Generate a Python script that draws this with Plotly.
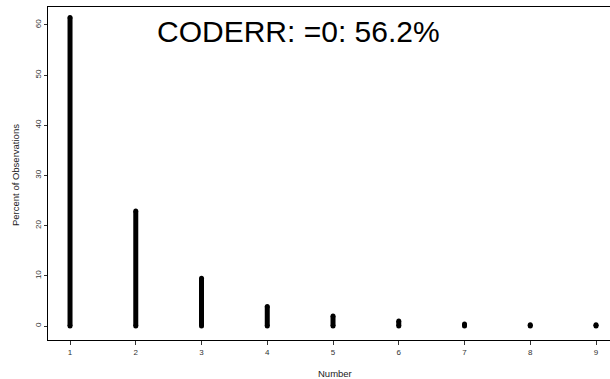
import plotly.graph_objects as go

numbers = [1, 2, 3, 4, 5, 6, 7, 8, 9]
percents = [61.5, 22.9, 9.5, 3.9, 2.0, 1.0, 0.4, 0.25, 0.25]
y_ticks = [0, 10, 20, 30, 40, 50, 60]
title_text = "CODERR: =0: 56.2%"
x_title = "Number"
y_title = "Percent of Observations"

xs, ys = [], []
for n, p in zip(numbers, percents):
    xs += [n, n, None]
    ys += [0, p, None]

fig = go.Figure()
fig.add_trace(go.Scatter(
    x=xs, y=ys, mode="lines+markers",
    line=dict(color="black", width=5),
    marker=dict(color="black", size=5, line=dict(width=0)),
    connectgaps=False, hoverinfo="skip", showlegend=False, cliponaxis=False,
))

W, H = 610, 379
ml, mr, mt, mb = 48, 0, 7, 39
pw, ph = W - ml - mr, H - mt - mb


def px_x(px):
    return (px - ml) / pw


def px_y(py):
    return (H - mb - py) / ph


fig.update_layout(
    width=W, height=H,
    margin=dict(l=ml, r=mr, t=mt, b=mb, pad=0, autoexpand=False),
    paper_bgcolor="white", plot_bgcolor="white",
    font=dict(family="Liberation Sans, Arial, sans-serif", color="#333"),
    xaxis=dict(
        range=[0.665, 9.213], tickvals=numbers, ticktext=[str(n) for n in numbers],
        showgrid=False, zeroline=False, showline=True, linecolor="black", linewidth=1,
        mirror=True, ticks="outside", ticklen=4, tickcolor="#333", tickwidth=1,
        tickfont=dict(size=8, color="#333"), automargin=False,
    ),
    yaxis=dict(
        range=[-2.79, 63.58], tickvals=y_ticks, ticktext=[str(v) for v in y_ticks],
        showgrid=False, zeroline=False, showline=True, linecolor="black", linewidth=1,
        ticks="outside", ticklen=3, tickcolor="#333", tickwidth=1, tickangle=-90,
        tickfont=dict(size=8, color="#333"), automargin=False,
    ),
    annotations=[
        dict(
            text=title_text, xref="paper", yref="paper",
            x=px_x(298.5), y=px_y(31),
            xanchor="center", yanchor="middle", showarrow=False,
            font=dict(size=30, color="black", family="Liberation Sans, Arial, sans-serif"),
        ),
        dict(
            text=x_title, xref="paper", yref="paper",
            x=px_x(335), y=px_y(373),
            xanchor="center", yanchor="middle", showarrow=False,
            font=dict(size=9.5, color="#222"),
        ),
        dict(
            text=y_title, xref="paper", yref="paper",
            x=px_x(16), y=px_y(175), textangle=-90,
            xanchor="center", yanchor="middle", showarrow=False,
            font=dict(size=9.5, color="#222"),
        ),
    ],
)

fig.write_html("out.html", config={"displayModeBar": False},
               post_script="document.body.style.margin='0';document.body.style.overflow='hidden';")
